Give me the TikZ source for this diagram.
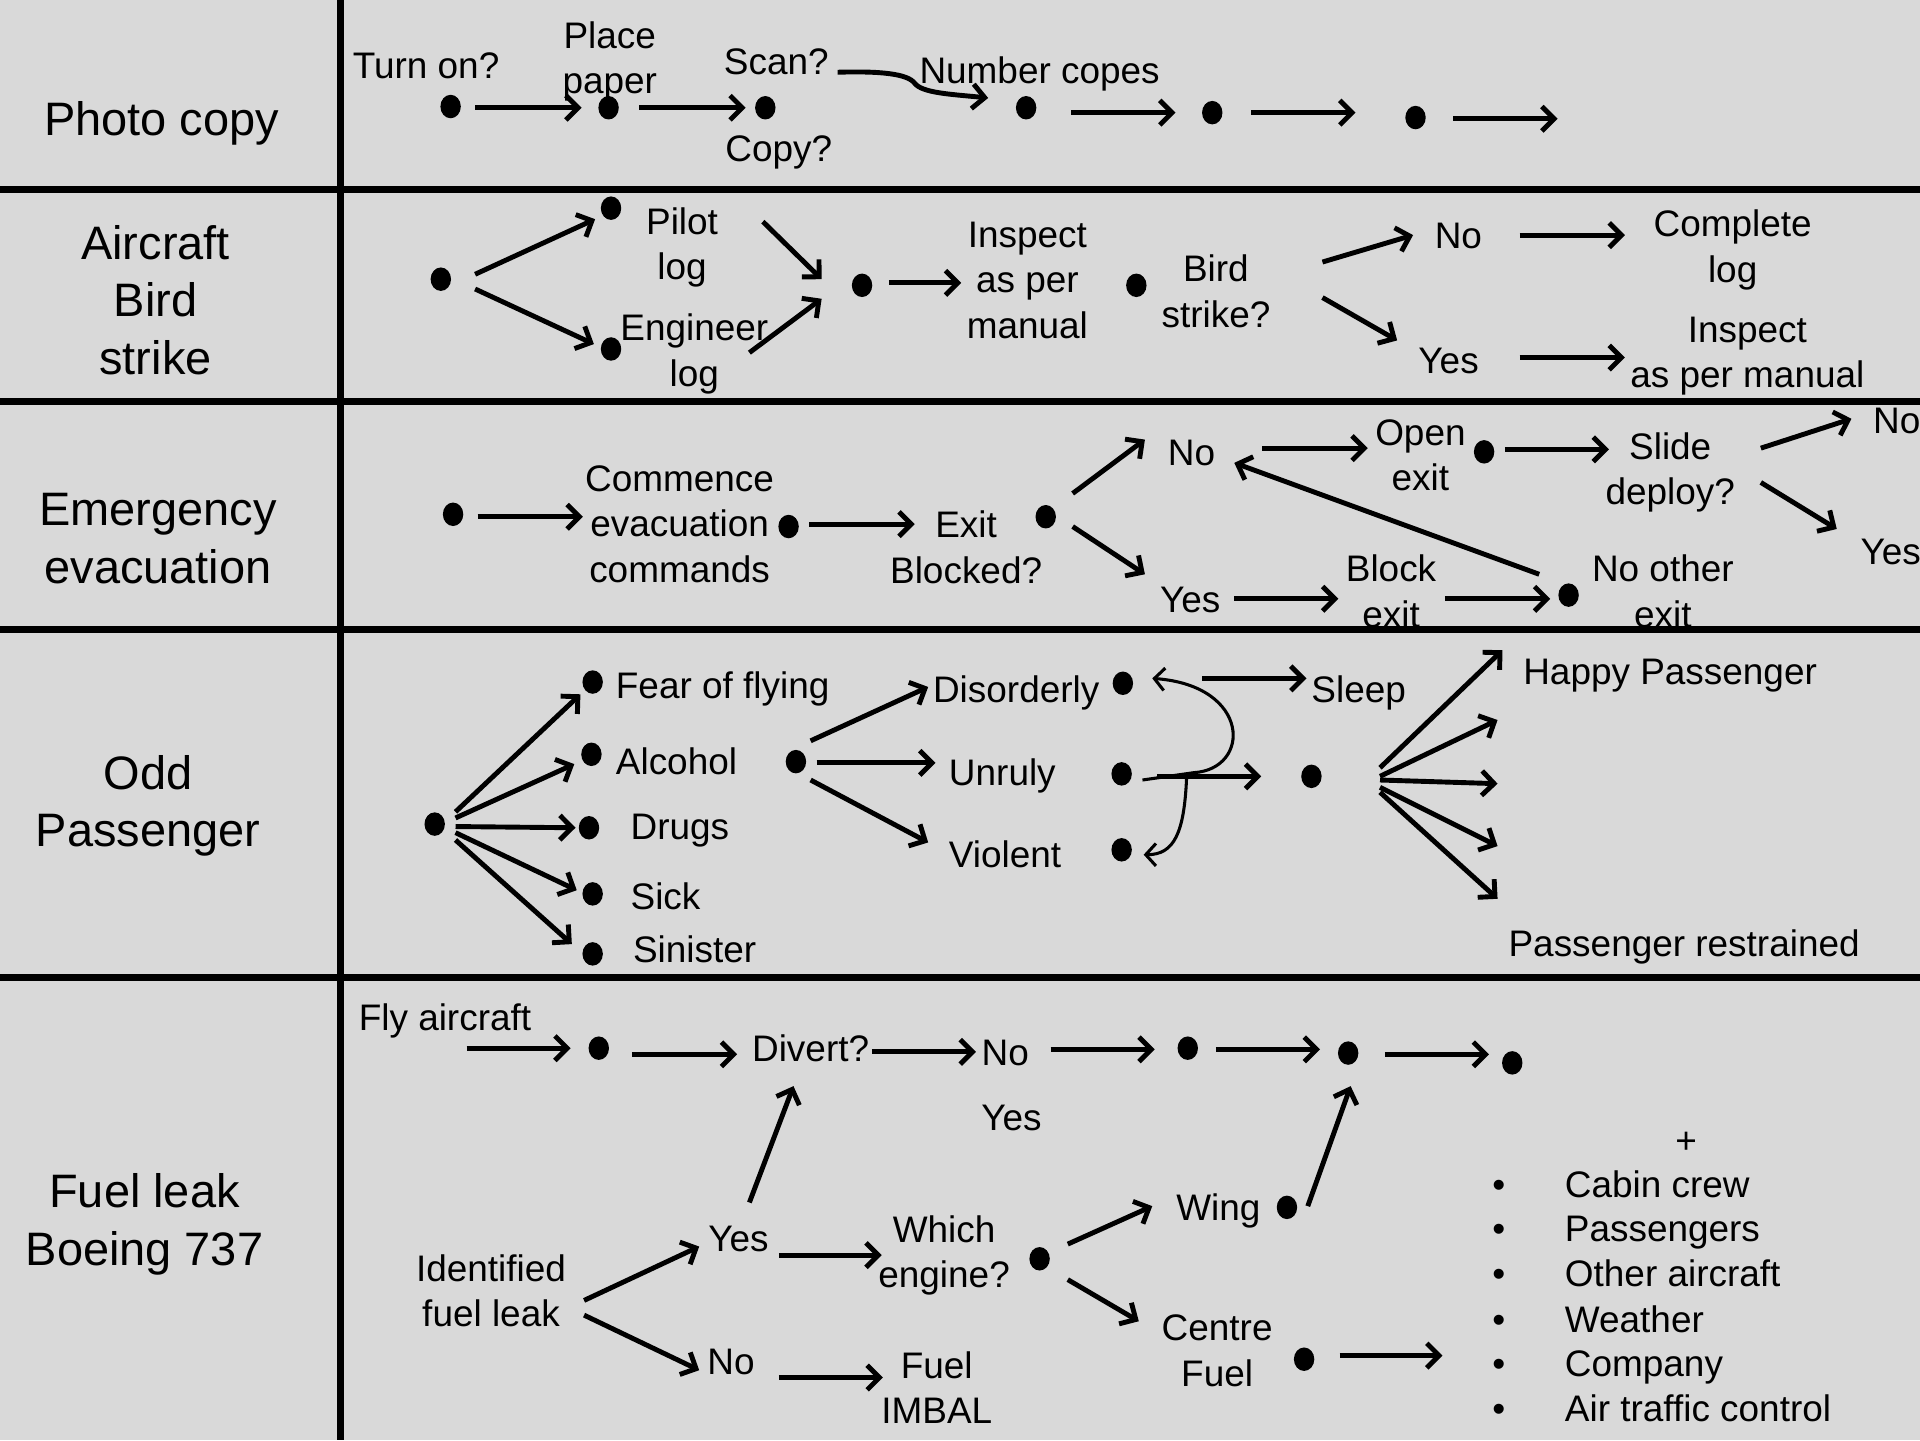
\documentclass[tikz,border=0pt]{standalone}
\usepackage{fontspec}
\setmainfont{Liberation Sans}
\usetikzlibrary{arrows.meta,shapes.geometric}
\definecolor{bg}{HTML}{D9D9D9}
\begin{document}
\begin{tikzpicture}[x=0.6pt,y=-0.6pt,
 blob/.style={ellipse,fill=black,minimum width=10pt,minimum height=11.5pt,inner sep=0pt},
 txt/.style={font=\fontsize{18.1}{22.2}\selectfont,align=center,inner sep=1pt},
 one/.style={txt,align=none,text height=13pt,text depth=0pt},
 lab/.style={font=\fontsize{23}{28.2}\selectfont,align=center},
 arr/.style={line width=2.4pt,-{Straight Barb[length=6pt,width=12pt]}},
 thinarr/.style={line width=1.5pt,-{Straight Barb[length=5pt,width=11pt]}},
 gridline/.style={line width=3.3pt}]
\fill[bg] (0,0) rectangle (1568,1176);
\useasboundingbox (0,0) rectangle (1568,1176);
% grid
\draw[gridline] (0,155) -- (1568,155);
\draw[gridline] (0,328) -- (1568,328);
\draw[gridline] (0,514) -- (1568,514);
\draw[gridline] (0,798) -- (1568,798);
\draw[gridline] (278,0) -- (278,1176);
% row labels
\node[lab] (r1) at (132,101) {Photo copy};
\node[lab] (r2) at (127,245) {Aircraft\\Bird\\strike};
\node[lab] (r3) at (129,440) {Emergency\\evacuation};
\node[lab] (r4) at (121,658) {Odd\\Passenger};
\node[lab] (r5) at (118,1000) {Fuel leak\\Boeing 737};

% ---------- Row 1: Photo copy
\node[one] (turnon) at (348,53) {Turn on?};
\node[blob] (p1) at (368,87) {};
\node[txt] (place) at (498,50) {Place\\paper};
\node[blob] (p2) at (497,88) {};
\node[blob] (p3) at (625,88) {};
\node[one] (scan) at (634,50) {Scan?};
\node[one] (copy) at (636,121) {Copy?};
\node[one] (numc) at (849,57) {Number copes};
\node[blob] (p4) at (838,88) {};
\node[blob] (p5) at (990,92) {};
\node[blob] (p6) at (1156,96) {};
\coordinate (p7) at (1272,97);
\coordinate (pbend) at (747,68);
\draw[arr] ([shift={(20,1)}]p1.center) -- ([shift={(-22,0)}]p2.center);
\draw[arr] ([shift={(25,0)}]p2.center) -- ([shift={(-16,0)}]p3.center);
\draw[arr] ([shift={(50,9)}]scan.center) .. controls +(34,-1) and +(-6,-8) .. (pbend)
  .. controls +(6,8) and +(-30,-3) .. ([shift={(-31,-8)}]p4.center);
\draw[arr] ([shift={(37,4)}]p4.center) -- ([shift={(-30,0)}]p5.center);
\draw[arr] ([shift={(32,0)}]p5.center) -- ([shift={(-49,-4)}]p6.center);
\draw[arr] ([shift={(31,1)}]p6.center) -- (p7);

% ---------- Row 2: Aircraft bird strike
\node[blob] (b0) at (360,228) {};
\node[blob] (pilotd) at (499,170) {};
\node[txt] (pilot) at (557,202) {Pilot\\log};
\node[blob] (engd) at (499,285) {};
\node[txt] (eng) at (567,289) {Engineer\\log};
\node[blob] (b1) at (704,233) {};
\node[txt] (insp) at (839,229) {Inspect\\as per\\manual};
\node[blob] (b2) at (928,233) {};
\node[txt] (bird) at (993,238) {Bird\\strike?};
\node[one] (no2) at (1191,192) {No};
\node[one] (yes2) at (1183,294) {Yes};
\node[txt] (comp) at (1415,204) {Complete\\log};
\node[txt] (insp2) at (1427,291) {Inspect\\as per manual};
\draw[arr] ([shift={(28,-4)}]b0.center) -- ([shift={(-13,9)}]pilotd.center);
\draw[arr] ([shift={(28,8)}]b0.center) -- ([shift={(-14,-4)}]engd.center);
\draw[arr] ([shift={(66,-21)}]pilot.center) -- ([shift={(-33,-5)}]b1.center);
\draw[arr] ([shift={(45,-1)}]eng.center) -- ([shift={(-33,11)}]b1.center);
\draw[arr] ([shift={(22,-2)}]b1.center) -- ([shift={(-54,2)}]insp.center);
\draw[arr] ([shift={(87,-24)}]bird.center) -- ([shift={(-37,0)}]no2.center);
\draw[arr] ([shift={(87,5)}]bird.center) -- ([shift={(-42,-16)}]yes2.center);
\draw[arr] ([shift={(50,0)}]no2.center) -- ([shift={(-88,-12)}]comp.center);
\draw[arr] ([shift={(58,-2)}]yes2.center) -- ([shift={(-100,1)}]insp2.center);

% ---------- Row 3: Emergency evacuation
\node[blob] (e0) at (370,420) {};
\node[txt] (comm) at (555,428) {Commence\\evacuation\\commands};
\node[blob] (e1) at (644,430) {};
\node[txt] (exit) at (789,447) {Exit\\Blocked?};
\node[blob] (e2) at (854,422) {};
\node[one] (no3) at (973,369) {No};
\node[one] (yes3) at (972,489) {Yes};
\node[txt] (open) at (1160,372) {Open\\exit};
\node[blob] (e3) at (1212,369) {};
\node[txt] (slide) at (1364,386) {Slide\\deploy?};
\node[one] (no4) at (1549,343) {No};
\node[one] (yes4) at (1544,450) {Yes};
\node[txt] (block) at (1136,483) {Block\\exit};
\node[blob] (e4) at (1281,486) {};
\node[txt] (nother) at (1358,483) {No other\\exit};
\draw[arr] ([shift={(20,2)}]e0.center) -- ([shift={(-79,-6)}]comm.center);
\draw[arr] ([shift={(17,-2)}]e1.center) -- ([shift={(-42,-19)}]exit.center);
\draw[arr] ([shift={(22,-19)}]e2.center) -- ([shift={(-38,-10)}]no3.center);
\draw[arr] ([shift={(22,8)}]e2.center) -- ([shift={(-37,-20)}]yes3.center);
\draw[arr] ([shift={(58,-3)}]no3.center) -- ([shift={(-43,-6)}]open.center);
\draw[arr] ([shift={(17,-2)}]e3.center) -- ([shift={(-50,-19)}]slide.center);
\draw[arr] ([shift={(74,-20)}]slide.center) -- ([shift={(-37,-1)}]no4.center);
\draw[arr] ([shift={(74,8)}]slide.center) -- ([shift={(-44,-18)}]yes4.center);
\draw[arr] ([shift={(36,0)}]yes3.center) -- ([shift={(-43,6)}]block.center);
\draw[arr] ([shift={(44,6)}]block.center) -- ([shift={(-15,3)}]e4.center);
\draw[arr] ([shift={(-24,-17)}]e4.center) -- ([shift={(35,9)}]no3.center);

% ---------- Row 4: Odd passenger
\node[blob] (o0) at (355,673) {};
\node[blob] (f1) at (484,557) {};
\node[blob] (f2) at (483,616) {};
\node[blob] (f3) at (481,676) {};
\node[blob] (f4) at (484,730) {};
\node[blob] (f5) at (484,779) {};
\node[one,anchor=west] (fear) at (501,560) {Fear of flying};
\node[one,anchor=west] (alc) at (501,622) {Alcohol};
\node[one,anchor=west] (drugs) at (513,675) {Drugs};
\node[one,anchor=west] (sick) at (513,732) {Sick};
\node[one,anchor=west] (sin) at (515,775) {Sinister};
\node[blob] (o1) at (650,622) {};
\node[one,anchor=west] (dis) at (760,563) {Disorderly};
\node[one,anchor=west] (unr) at (773,631) {Unruly};
\node[one,anchor=west] (vio) at (773,698) {Violent};
\node[blob] (d1) at (917,558) {};
\node[blob] (d2) at (916,632) {};
\node[blob] (d3) at (916,694) {};
\node[one,anchor=west] (sleep) at (1069,563) {Sleep};
\node[blob] (o2) at (1071,634) {};
\node[one,anchor=west] (happy) at (1242,548) {Happy Passenger};
\node[one,anchor=west] (restr) at (1230,770) {Passenger restrained};
\coordinate (cm) at (975,631);
\coordinate (cj) at (969,636);
\coordinate (h1) at (1227,531);
\coordinate (h2) at (1223,588);
\coordinate (h3) at (1223,640);
\coordinate (h4) at (1223,691);
\coordinate (h5) at (1223,734);
\draw[arr] ([shift={(17,-10)}]o0.center) -- ([shift={(-10,10)}]f1.center);
\draw[arr] ([shift={(17,-5)}]o0.center) -- ([shift={(-14,8)}]f2.center);
\draw[arr] ([shift={(17,2)}]o0.center) -- ([shift={(-11,0)}]f3.center);
\draw[arr] ([shift={(17,7)}]o0.center) -- ([shift={(-13,-3)}]f4.center);
\draw[arr] ([shift={(17,13)}]o0.center) -- ([shift={(-17,-8)}]f5.center);
\draw[arr] ([shift={(12,-17)}]o1.center) -- ([shift={(-2,-2)}]dis.west);
\draw[arr] ([shift={(17,1)}]o1.center) -- ([shift={(-9,-8)}]unr.west);
\draw[arr] ([shift={(12,15)}]o1.center) -- ([shift={(-15,-10)}]vio.west);
\draw[arr] ([shift={(65,-4)}]d1.center) -- ([shift={(-2,-9)}]sleep.west);
\draw[thinarr] ([shift={(17,5)}]d2.center) -- (cm) .. controls +(47,-3) and +(81,6) .. ([shift={(24,-4)}]d1.center);
\draw[thinarr] (cj) .. controls +(-2,44) and +(25,0) .. ([shift={(18,4)}]d3.center);
\draw[arr] ([shift={(29,2)}]d2.center) -- ([shift={(-41,0)}]o2.center);
\draw[arr] ([shift={(56,-7)}]o2.center) -- (h1);
\draw[arr] ([shift={(56,0)}]o2.center) -- (h2);
\draw[arr] ([shift={(56,3)}]o2.center) -- (h3);
\draw[arr] ([shift={(56,9)}]o2.center) -- (h4);
\draw[arr] ([shift={(56,13)}]o2.center) -- (h5);

% ---------- Row 5: Fuel leak
\node[one,anchor=west] (fly) at (291,831) {Fly aircraft};
\node[blob] (q1) at (489,856) {};
\node[one] (div) at (662,856) {Divert?};
\node[one] (no5) at (821,859) {No};
\node[blob] (q2) at (970,856) {};
\node[blob] (q3) at (1101,860) {};
\node[blob] (q4) at (1235,868) {};
\node[one] (yes5) at (826,912) {Yes};
\node[txt] (ident) at (401,1054) {Identified\\fuel leak};
\node[one] (yes6) at (603,1011) {Yes};
\node[one] (no6) at (597,1112) {No};
\node[txt] (which) at (771,1025) {Which\\engine?};
\node[blob] (w1) at (849,1028) {};
\node[one] (wing) at (995,986) {Wing};
\node[blob] (w2) at (1051,986) {};
\node[txt] (centre) at (994,1103) {Centre\\Fuel};
\node[blob] (w3) at (1065,1110) {};
\node[txt] (fuel) at (765,1133) {Fuel\\IMBAL};
\coordinate (lend) at (1178,1107);
\draw[arr] ([shift={(90,25)}]fly.west) -- ([shift={(-23,0)}]q1.center);
\draw[arr] ([shift={(27,5)}]q1.center) -- ([shift={(-60,5)}]div.center);
\draw[arr] ([shift={(50,3)}]div.center) -- ([shift={(-24,0)}]no5.center);
\draw[arr] ([shift={(37,-2)}]no5.center) -- ([shift={(-27,1)}]q2.center);
\draw[arr] ([shift={(23,1)}]q2.center) -- ([shift={(-23,-3)}]q3.center);
\draw[arr] ([shift={(30,1)}]q3.center) -- ([shift={(-19,-7)}]q4.center);
\draw[arr] ([shift={(76,8)}]ident.center) -- ([shift={(-32,7)}]yes6.center);
\draw[arr] ([shift={(76,20)}]ident.center) -- ([shift={(-26,7)}]no6.center);
\draw[arr] ([shift={(9,-29)}]yes6.center) -- ([shift={(-14,31)}]div.center);
\draw[arr] ([shift={(33,14)}]yes6.center) -- ([shift={(-51,0)}]which.center);
\draw[arr] ([shift={(23,-12)}]w1.center) -- ([shift={(-54,-1)}]wing.center);
\draw[arr] ([shift={(23,17)}]w1.center) -- ([shift={(-64,-24)}]centre.center);
\draw[arr] ([shift={(17,-1)}]w2.center) -- ([shift={(2,27)}]q3.center);
\draw[arr] ([shift={(29,-3)}]w3.center) -- (lend);
\draw[arr] ([shift={(39,13)}]no6.center) -- ([shift={(-44,-8)}]fuel.center);
\node[one] (plus) at (1377,931) {+};
\foreach \i/\yy/\t in {1/967/Cabin crew,2/1003/Passengers,3/1040/Other aircraft,4/1077/Weather,5/1113/Company,6/1150/Air traffic control}{
  \node[one] (bul\i) at (1224,\yy) {\textbullet};
  \node[one,anchor=west] (item\i) at (1276,\yy) {\t};
}
\end{tikzpicture}
\end{document}
